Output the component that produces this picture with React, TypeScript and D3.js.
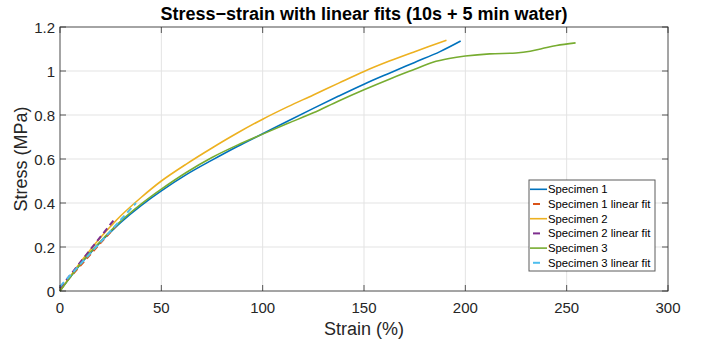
import React from "react";
import * as d3 from "d3";

type Pt = [number, number];

const spec1: Pt[] = [[0,0],[5,0.062],[10,0.121],[15,0.173],[20,0.222],[25,0.268],[30,0.312],[40,0.388],[50,0.455],[62.5,0.53],[75,0.595],[87.5,0.657],[100,0.715],[112.5,0.773],[125,0.83],[137.5,0.886],[150,0.94],[162.5,0.99],[175,1.039],[187.5,1.088],[197.7,1.136]];
const spec2: Pt[] = [[0,0],[5,0.066],[10,0.13],[15,0.188],[20,0.243],[25,0.294],[30,0.342],[40,0.425],[50,0.5],[62.5,0.578],[75,0.65],[87.5,0.718],[100,0.781],[112.5,0.838],[125,0.891],[137.5,0.945],[150,0.998],[162.5,1.045],[175,1.088],[190.7,1.14]];
const spec3: Pt[] = [[0,0],[5,0.062],[10,0.122],[15,0.176],[20,0.226],[25,0.273],[30,0.318],[40,0.395],[50,0.463],[62.5,0.54],[75,0.607],[87.5,0.663],[100,0.713],[112.5,0.762],[125,0.81],[137.5,0.864],[150,0.915],[162.5,0.963],[175,1.008],[184,1.04],[192,1.057],[200,1.068],[212,1.078],[225,1.082],[232,1.09],[238,1.102],[245,1.116],[254.4,1.128]];
const fit1: Pt[] = [[0,0.012],[28,0.3]];
const fit2: Pt[] = [[0,0.014],[26.5,0.322]];
const fit3: Pt[] = [[0,0.02],[37.5,0.4]];

const xTicks = [0, 50, 100, 150, 200, 250, 300];
const yTicks = [0, 0.2, 0.4, 0.6, 0.8, 1, 1.2];
const yTickLabels = ["0", "0.2", "0.4", "0.6", "0.8", "1", "1.2"];

const seriesNames = ["Specimen 1", "Specimen 1 linear fit", "Specimen 2", "Specimen 2 linear fit", "Specimen 3", "Specimen 3 linear fit"];
const colors = ["#0072BD", "#D95319", "#EDB120", "#7E2F8E", "#77AC30", "#4DBEEE"];

const FONT = "'Liberation Sans', Arial, Helvetica, sans-serif";

export default function App() {
  const W = 702, H = 343;
  const left = 60, right = 668, top = 27, bottom = 291;
  const x = d3.scaleLinear().domain([0, 300]).range([left, right]);
  const y = d3.scaleLinear().domain([0, 1.2]).range([bottom, top]);
  const line = d3.line<Pt>().x(d => x(d[0])).y(d => y(d[1])).curve(d3.curveCatmullRom.alpha(0.5));

  const series: { data: Pt[]; color: string; dash?: string; w: number }[] = [
    { data: spec1, color: colors[0], w: 1.6 },
    { data: spec2, color: colors[2], w: 1.6 },
    { data: spec3, color: colors[4], w: 1.6 },
    { data: fit1, color: colors[1], dash: "6,4", w: 2 },
    { data: fit2, color: colors[3], dash: "6,4", w: 2 },
    { data: fit3, color: colors[5], dash: "6,4", w: 2 },
  ];
  const drawOrder = [series[0], series[3], series[1], series[4], series[2], series[5]];

  const legX = 529, legY = 180, legW = 126, legH = 91, rowH = 14.7;

  return (
    <svg width={W} height={H} style={{ position: "absolute", left: 0, top: 0, background: "#fff" }} fontFamily={FONT}>
      <rect x={0} y={0} width={W} height={H} fill="#fff" />
      {xTicks.map(t => (
        <line key={"gx" + t} x1={x(t)} x2={x(t)} y1={top} y2={bottom} stroke="#e3e3e3" strokeWidth={1} />
      ))}
      {yTicks.map(t => (
        <line key={"gy" + t} x1={left} x2={right} y1={y(t)} y2={y(t)} stroke="#e3e3e3" strokeWidth={1} />
      ))}
      {drawOrder.map((s, i) => (
        <path key={i} d={line(s.data) || ""} fill="none" stroke={s.color} strokeWidth={s.w} strokeDasharray={s.dash} />
      ))}
      <rect x={left} y={top} width={right - left} height={bottom - top} fill="none" stroke="#262626" strokeOpacity={0.75} strokeWidth={1} />
      {xTicks.map(t => (
        <g key={"tx" + t}>
          <line x1={x(t)} x2={x(t)} y1={bottom} y2={bottom - 6} stroke="#262626" strokeOpacity={0.75} />
          <line x1={x(t)} x2={x(t)} y1={top} y2={top + 6} stroke="#262626" strokeOpacity={0.75} />
          <text x={x(t)} y={bottom + 22} textAnchor="middle" fontSize={15} fill="#262626">{t}</text>
        </g>
      ))}
      {yTicks.map((t, i) => (
        <g key={"ty" + t}>
          <line x1={left} x2={left + 6} y1={y(t)} y2={y(t)} stroke="#262626" strokeOpacity={0.75} />
          <line x1={right} x2={right - 6} y1={y(t)} y2={y(t)} stroke="#262626" strokeOpacity={0.75} />
          <text x={left - 5} y={y(t) + 5.5} textAnchor="end" fontSize={15} fill="#262626">{yTickLabels[i]}</text>
        </g>
      ))}
      <text x={(left + right) / 2} y={335} textAnchor="middle" fontSize={18} fill="#262626">Strain (%)</text>
      <text transform={`translate(27,${(top + bottom) / 2}) rotate(-90)`} textAnchor="middle" fontSize={18} fill="#262626">Stress (MPa)</text>
      <text x={(left + right) / 2} y={20} textAnchor="middle" fontSize={18} fontWeight="bold" fill="#000">Stress−strain with linear fits (10s + 5 min water)</text>
      <rect x={legX} y={legY} width={legW} height={legH} fill="#fff" stroke="#262626" strokeOpacity={0.75} strokeWidth={1} />
      {seriesNames.map((n, i) => {
        const cy = legY + 9.3 + i * rowH;
        const isFit = i % 2 === 1;
        return (
          <g key={n}>
            {isFit ? (
              <line x1={legX + 4} x2={legX + 11} y1={cy} y2={cy} stroke={colors[i]} strokeWidth={2} />
            ) : (
              <line x1={legX + 1} x2={legX + 18} y1={cy} y2={cy} stroke={colors[i]} strokeWidth={1.6} />
            )}
            <text x={legX + 19} y={cy + 4} fontSize={11.3} fill="#000">{n}</text>
          </g>
        );
      })}
    </svg>
  );
}
